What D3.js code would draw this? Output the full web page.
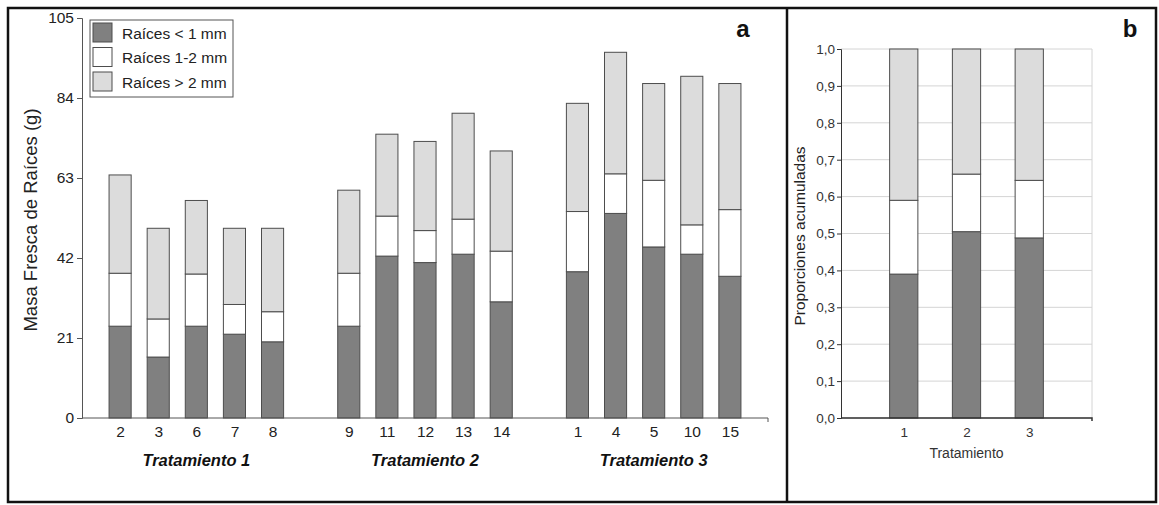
<!DOCTYPE html>
<html><head><meta charset="utf-8">
<script src="https://cdn.jsdelivr.net/npm/d3@7/dist/d3.min.js"></script>
<style>body{margin:0;background:#fff}svg{display:block;font-family:"Liberation Sans",Arial,sans-serif}</style>
</head><body><svg id="c" width="1159" height="505"></svg>
<script>
// Panel a data
const groups = ["Tratamiento 1", "Tratamiento 2", "Tratamiento 3"];
const plantLabels = [["2","3","6","7","8"],["9","11","12","13","14"],["1","4","5","10","15"]];
const seriesNames = ["Raíces < 1 mm", "Raíces 1-2 mm", "Raíces > 2 mm"];
const fine   = [24.1,16.0,24.1,22.0,20.0, 24.1,42.5,40.8,43.0,30.5, 38.4,53.7,44.9,43.0,37.2];
const medium = [13.9,10.0,13.7,7.8,7.9, 13.9,10.5,8.4,9.2,13.3, 15.8,10.4,17.5,7.7,17.5];
const coarse = [25.8,23.8,19.3,20.0,21.9, 21.8,21.5,23.4,27.8,26.3, 28.4,31.9,25.4,39.0,33.1];
const yTicksA = [0,21,42,63,84,105];
// Panel b data
const treatments = ["1","2","3"];
const propFine   = [0.39, 0.505, 0.488];
const propCumMed = [0.59, 0.661, 0.644];
const yTicksB = [0,0.1,0.2,0.3,0.4,0.5,0.6,0.7,0.8,0.9,1.0];

const colors = ["#808080", "#ffffff", "#dcdcdc"];
const stroke = "#4d4d4d";
const svg = d3.select("#c");

// ----- Panel a -----
const A = {l:82, r:768, t:18, b:418};
const nSlots = 18;
const x = d3.scaleLinear().domain([0, nSlots]).range([A.l, A.r]);
const y = d3.scaleLinear().domain([0, 105]).range([A.b, A.t]);
const bars = [];
plantLabels.forEach((g, gi) => g.forEach((lab, i) => {
  const k = bars.length;
  bars.push({lab, pos: 1 + gi*6 + i, vals:[fine[k], medium[k], coarse[k]]});
}));
const bw = x(0.58) - x(0);
const ga = svg.append("g");
bars.forEach(b => {
  let base = 0;
  b.vals.forEach((v, si) => {
    ga.append("rect").attr("x", x(b.pos) - bw/2).attr("y", y(base+v))
      .attr("width", bw).attr("height", y(base) - y(base+v))
      .attr("fill", colors[si]).attr("stroke", stroke).attr("stroke-width", 1);
    base += v;
  });
});
// y axis
const yAx = ga.append("g").attr("transform", `translate(${A.l},0)`)
  .call(d3.axisLeft(y).tickValues(yTicksA).tickSize(5).tickPadding(3));
yAx.selectAll("text").attr("font-size", 15.5).attr("fill", "#222").attr("font-family", "Liberation Sans, Arial, sans-serif");
yAx.selectAll("line,path").attr("stroke", "#555");
// x axis
const xAx = ga.append("g").attr("transform", `translate(0,${A.b})`)
  .call(d3.axisBottom(x).tickValues(bars.map(b=>b.pos)).tickFormat((d,i)=>bars[i].lab).tickSize(0).tickPadding(8));
xAx.select("path").attr("stroke", "#555").attr("d", `M${A.l},0H${A.r}V4`);
xAx.selectAll("text").attr("font-size", 15.5).attr("fill", "#222").attr("font-family", "Liberation Sans, Arial, sans-serif");
groups.forEach((g, gi) => {
  ga.append("text").attr("x", x(3 + gi*6)).attr("y", 466).attr("text-anchor", "middle")
    .attr("font-size", 16.5).attr("font-weight", "bold").attr("font-style", "italic").attr("fill", "#111").text(g);
});
ga.append("text").attr("transform", `translate(37,220) rotate(-90)`).attr("text-anchor", "middle")
  .attr("font-size", 18.5).attr("fill", "#222").text("Masa Fresca de Raíces (g)");
// legend
const lg = ga.append("g");
lg.append("rect").attr("x", 90).attr("y", 20).attr("width", 143).attr("height", 77)
  .attr("fill", "#fff").attr("stroke", "#555").attr("stroke-width", 1);
seriesNames.forEach((s, i) => {
  lg.append("rect").attr("x", 93).attr("y", 23 + i*24.5).attr("width", 19).attr("height", 19)
    .attr("fill", colors[i]).attr("stroke", stroke);
  lg.append("text").attr("x", 122).attr("y", 38.5 + i*24.5).attr("font-size", 15.5).attr("fill", "#222").text(s);
});
svg.append("text").attr("x", 743).attr("y", 37).attr("text-anchor", "middle").attr("font-size", 24)
  .attr("font-weight", "bold").attr("fill", "#111").text("a");

// ----- Panel b -----
const B = {l:841, r:1092, t:49, b:418};
const xb = d3.scaleLinear().domain([0, 4]).range([B.l, B.r]);
const yb = d3.scaleLinear().domain([0, 1]).range([B.b, B.t]);
const gb = svg.append("g");
yTicksB.forEach(t => gb.append("line").attr("x1", B.l).attr("x2", B.r).attr("y1", yb(t)).attr("y2", yb(t))
  .attr("stroke", "#d4d4d4").attr("stroke-width", 1));
gb.append("line").attr("x1", B.r).attr("x2", B.r).attr("y1", B.t).attr("y2", B.b).attr("stroke", "#d4d4d4");
const bwb = xb(0.45) - xb(0);
treatments.forEach((t, i) => {
  const segs = [[0, propFine[i]], [propFine[i], propCumMed[i]], [propCumMed[i], 1]];
  segs.forEach((s, si) => {
    gb.append("rect").attr("x", xb(i+1) - bwb/2).attr("y", yb(s[1])).attr("width", bwb)
      .attr("height", yb(s[0]) - yb(s[1])).attr("fill", colors[si]).attr("stroke", stroke).attr("stroke-width", 1);
  });
});
const ybAx = gb.append("g").attr("transform", `translate(${B.l},0)`)
  .call(d3.axisLeft(yb).tickValues(yTicksB).tickFormat(d => d3.format(".1f")(d).replace(".", ",")).tickSize(4).tickPadding(2));
ybAx.selectAll("text").attr("font-size", 13.5).attr("fill", "#333").attr("font-family", "Liberation Sans, Arial, sans-serif");
ybAx.selectAll("line,path").attr("stroke", "#333");
const xbAx = gb.append("g").attr("transform", `translate(0,${B.b})`)
  .call(d3.axisBottom(xb).tickValues([1,2,3]).tickFormat((d,i)=>treatments[i]).tickSize(0).tickPadding(9));
xbAx.select("path").attr("stroke", "#333").attr("stroke-width", 1.5).attr("d", `M${B.l},0H${B.r}V3`);
xbAx.selectAll("text").attr("font-size", 13.5).attr("fill", "#333").attr("font-family", "Liberation Sans, Arial, sans-serif");
gb.append("text").attr("x", xb(2)).attr("y", 458).attr("text-anchor", "middle").attr("font-size", 14).attr("fill", "#333").text("Tratamiento");
gb.append("text").attr("transform", `translate(805,236) rotate(-90)`).attr("text-anchor", "middle")
  .attr("font-size", 15.5).attr("fill", "#222").text("Proporciones acumuladas");
svg.append("text").attr("x", 1130).attr("y", 37).attr("text-anchor", "middle").attr("font-size", 24)
  .attr("font-weight", "bold").attr("fill", "#111").text("b");

// frames
svg.append("rect").attr("x", 8).attr("y", 8).attr("width", 1148).attr("height", 494)
  .attr("fill", "none").attr("stroke", "#111").attr("stroke-width", 2.5);
svg.append("line").attr("x1", 787).attr("x2", 787).attr("y1", 8).attr("y2", 502).attr("stroke", "#111").attr("stroke-width", 2.5);
</script></body></html>
